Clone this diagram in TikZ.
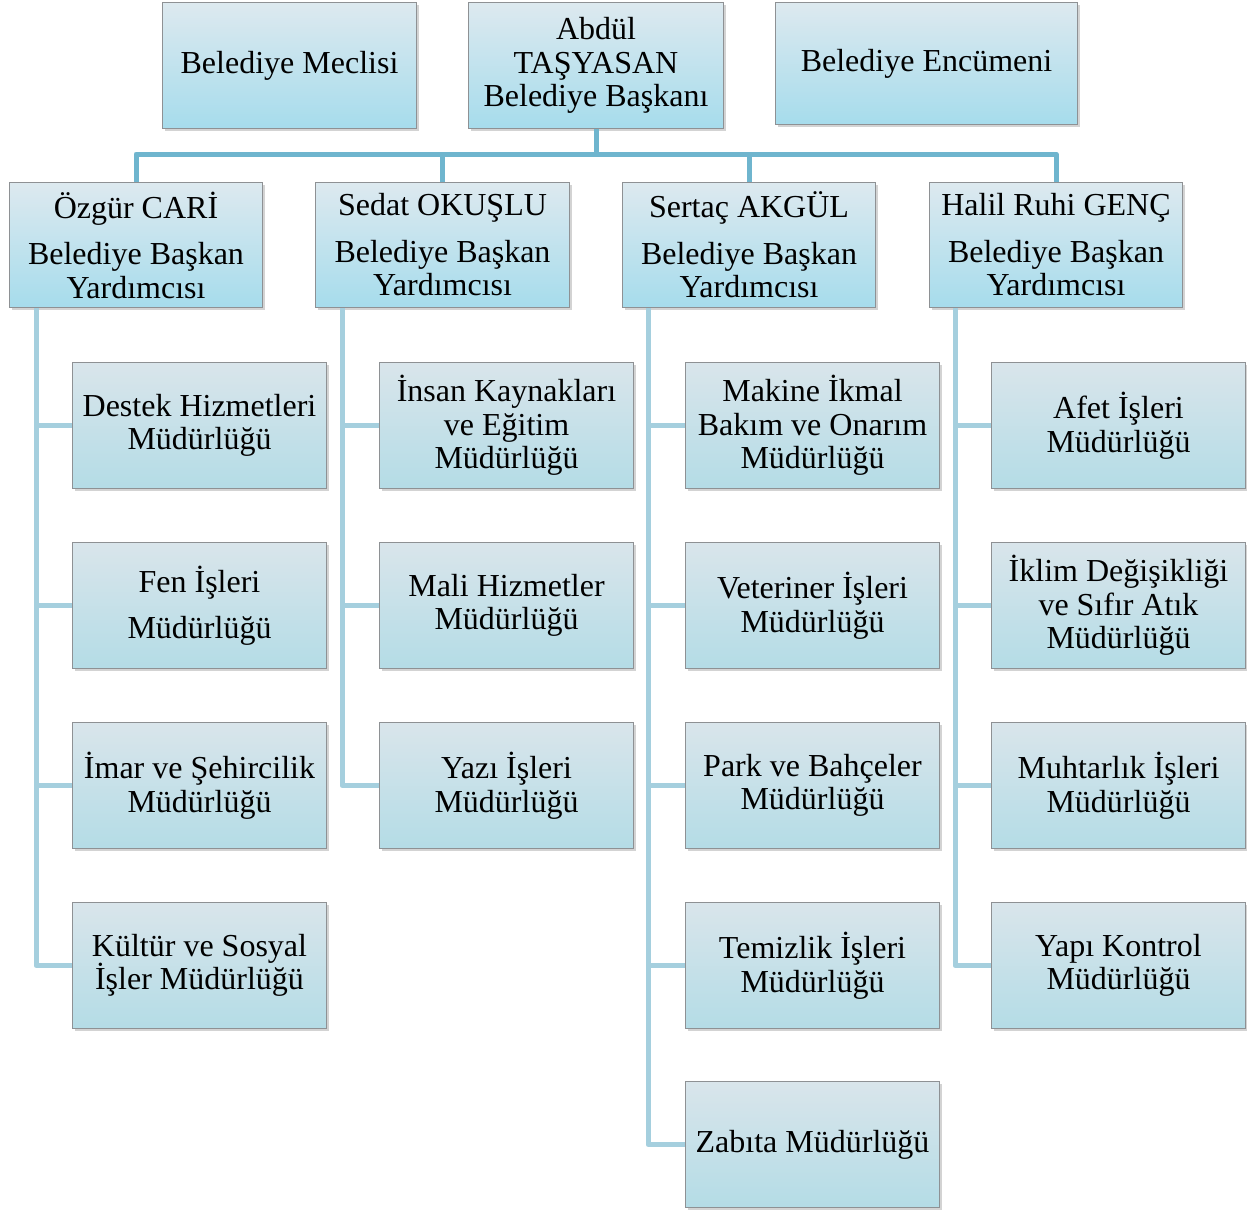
\documentclass[tikz,border=0pt]{standalone}
\usepackage{fontspec}
\setmainfont{Liberation Serif}
\usetikzlibrary{shadows,calc}
\definecolor{bordergray}{HTML}{8E9194}
\definecolor{topA}{HTML}{DDE9EF}
\definecolor{botA}{HTML}{A6DCEC}
\definecolor{topB}{HTML}{D9E5EB}
\definecolor{botB}{HTML}{B4DCE6}
\definecolor{upcol}{HTML}{6FB5CE}
\definecolor{lowcol}{HTML}{A5CFDE}
\tikzset{
  basebox/.style={rectangle, draw=bordergray, line width=1pt, anchor=north west,
    align=center, inner sep=0pt, font=\fontsize{32}{33.5}\selectfont,
    drop shadow={opacity=0.35, shadow xshift=2pt, shadow yshift=-2.5pt}},
  topbox/.style={basebox, top color=topA, bottom color=botA},
  subbox/.style={basebox, top color=topB, bottom color=botB,
    minimum width=254pt, minimum height=126pt},
  upline/.style={draw=upcol, line width=5pt, line join=round},
  lowline/.style={draw=lowcol, line width=5pt, line join=round}
}
\begin{document}
\begin{tikzpicture}[x=1pt,y=1pt]
\useasboundingbox (0,0) rectangle (1247,-1210);
% top row
\node[topbox, minimum width=254pt, minimum height=126pt] (meclis) at (162,-2) {Belediye Meclisi};
\node[topbox, minimum width=255pt, minimum height=126pt] (baskan) at (468,-2) {Abdül\\TAŞYASAN\\Belediye Başkanı};
\node[topbox, minimum width=302pt, minimum height=122pt] (encumen) at (775,-2) {Belediye Encümeni};
% deputies
\node[topbox, minimum width=253pt, minimum height=125pt] (d1) at (9,-182) {Özgür CARİ\\[13pt]Belediye Başkan\\Yardımcısı};
\node[topbox, minimum width=254pt, minimum height=125pt] (d2) at (315,-182) {Sedat OKUŞLU\\[13pt]Belediye Başkan\\Yardımcısı};
\node[topbox, minimum width=253pt, minimum height=125pt] (d3) at (622,-182) {Sertaç AKGÜL\\[13pt]Belediye Başkan\\Yardımcısı};
\node[topbox, minimum width=253pt, minimum height=125pt] (d4) at (929,-182) {Halil Ruhi GENÇ\\[13pt]Belediye Başkan\\Yardımcısı};
% column 1
\node[subbox] (a1) at (72,-362) {Destek Hizmetleri\\Müdürlüğü};
\node[subbox] (a2) at (72,-542) {Fen İşleri\\[13pt]Müdürlüğü};
\node[subbox] (a3) at (72,-722) {İmar ve Şehircilik\\Müdürlüğü};
\node[subbox] (a4) at (72,-902) {Kültür ve Sosyal\\İşler Müdürlüğü};
% column 2
\node[subbox] (b1) at (379,-362) {İnsan Kaynakları\\ve Eğitim\\Müdürlüğü};
\node[subbox] (b2) at (379,-542) {Mali Hizmetler\\Müdürlüğü};
\node[subbox] (b3) at (379,-722) {Yazı İşleri\\Müdürlüğü};
% column 3
\node[subbox] (c1) at (685,-362) {Makine İkmal\\Bakım ve Onarım\\Müdürlüğü};
\node[subbox] (c2) at (685,-542) {Veteriner İşleri\\Müdürlüğü};
\node[subbox] (c3) at (685,-722) {Park ve Bahçeler\\Müdürlüğü};
\node[subbox] (c4) at (685,-902) {Temizlik İşleri\\Müdürlüğü};
\node[subbox] (c5) at (685,-1081) {Zabıta Müdürlüğü};
% column 4
\node[subbox] (e1) at (991,-362) {Afet İşleri\\Müdürlüğü};
\node[subbox] (e2) at (991,-542) {İklim Değişikliği\\ve Sıfır Atık\\Müdürlüğü};
\node[subbox] (e3) at (991,-722) {Muhtarlık İşleri\\Müdürlüğü};
\node[subbox] (e4) at (991,-902) {Yapı Kontrol\\Müdürlüğü};
% upper connectors
\coordinate (bus) at (0,-154);
\draw[upline] (d1.north) -- (d1.north |- bus) -- (d4.north |- bus) -- (d4.north);
\draw[upline] (baskan.south) -- (baskan.south |- bus);
\draw[upline] (d2.north) -- (d2.north |- bus);
\draw[upline] (d3.north) -- (d3.north |- bus);
% lower connectors
\coordinate (t1) at ($(d1.south west)+(27,0)$);
\coordinate (t2) at ($(d2.south west)+(27,0)$);
\coordinate (t3) at ($(d3.south west)+(26,0)$);
\coordinate (t4) at ($(d4.south west)+(26,0)$);
\foreach \n in {a1,a2,a3,a4} {\draw[lowline] (t1) |- (\n.west);}
\foreach \n in {b1,b2,b3} {\draw[lowline] (t2) |- (\n.west);}
\foreach \n in {c1,c2,c3,c4,c5} {\draw[lowline] (t3) |- (\n.west);}
\foreach \n in {e1,e2,e3,e4} {\draw[lowline] (t4) |- (\n.west);}
\end{tikzpicture}
\end{document}
